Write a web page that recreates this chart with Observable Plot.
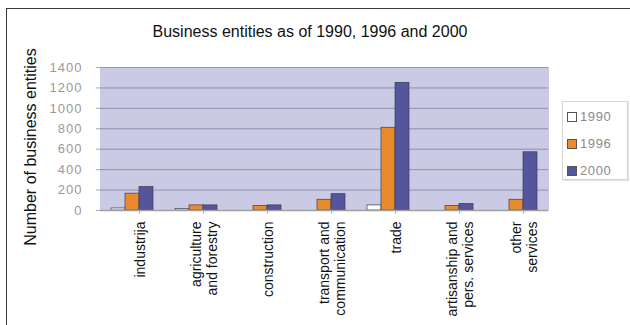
<!DOCTYPE html>
<html>
<head>
<meta charset="utf-8">
<script src="https://cdn.jsdelivr.net/npm/d3@7"></script>
<script src="https://cdn.jsdelivr.net/npm/@observablehq/plot@0.6"></script>
<style>
  html, body { margin: 0; padding: 0; background: #fff; }
  body { font-family: Arial, "Liberation Sans", sans-serif; }
  #wrap { position: relative; width: 630px; height: 325px; overflow: hidden; }
  #border { position: absolute; left: 6px; top: 8px; width: 700px; height: 400px; border: 1.5px solid #3a3a3a; box-sizing: border-box; }
  #title { position: absolute; left: 0; width: 620px; top: 23px; text-align: center; font-size: 16px; color: #111; }
  #ytitle { position: absolute; left: 31px; top: 147px; width: 240px; margin-left: -120px; margin-top: -10px; text-align: center; font-size: 16px; line-height: 20px; color: #111; transform: rotate(-90deg); white-space: nowrap; }
  #chart { position: absolute; left: 0; top: 0; }
  #legend { position: absolute; left: 562px; top: 101px; width: 66px; height: 79px; border: 1px solid #d4d4d4; background: #fff; box-sizing: border-box; box-shadow: 1px 1px 1px #e4e4e4; }
  .item { position: absolute; left: 4px; font-size: 13px; color: #8a8a8a; letter-spacing: 0.6px; line-height: 13px; }
  .sw { display: inline-block; width: 8px; height: 8px; border: 1px solid #555; margin-right: 3px; vertical-align: -1px; }
  svg [aria-label="y-axis tick label"] text { letter-spacing: 1px; }
</style>
</head>
<body>
<div id="wrap">
  <div id="border"></div>
  <div id="title"></div>
  <div id="chart"></div>
  <div id="ytitle"></div>
  <div id="legend"></div>
</div>
<script>
const titleText = "Business entities as of 1990, 1996 and 2000";
const yTitle = "Number of business entities";
const categories = ["industrija", "agriculture\nand forestry", "construction", "transport and\ncommunication", "trade", "artisanship and\npers. services", "other\nservices"];
const years = ["1990", "1996", "2000"];
const values1990 = [20, 15, 0, 0, 50, 0, 0];
const values1996 = [165, 50, 45, 105, 810, 45, 105];
const values2000 = [230, 50, 50, 160, 1250, 65, 570];
const yTicks = [0, 200, 400, 600, 800, 1000, 1200, 1400];
const colors = ["#ffffff", "#e98a2c", "#55559d"];

const series = [values1990, values1996, values2000];
const data = [];
categories.forEach((c, i) => years.forEach((y, j) => data.push({category: c, year: y, value: series[j][i]})));

document.getElementById("title").textContent = titleText;
document.getElementById("ytitle").textContent = yTitle;

function build(useSuper) {
  const bgMarks = useSuper
    ? [
        Plot.frame({facet: "super", fill: "#cacae4", stroke: "none"}),
        Plot.ruleY(yTicks.filter(d => d > 0), {facet: "super", stroke: "#8f8fb2"}),
        Plot.frame({facet: "super", stroke: "#9c9c9c", strokeWidth: 1.2})
      ]
    : [
        Plot.frame({fill: "#cacae4", stroke: "#cacae4", strokeWidth: 1}),
        Plot.gridY(yTicks.filter(d => d > 0), {stroke: "#8f8fb2", strokeOpacity: 1}),
        Plot.ruleY([1400], {stroke: "#9a9a9a"})
      ];
  return Plot.plot({
    width: 630,
    height: 325,
    marginTop: 67,
    marginBottom: 115,
    marginLeft: 97,
    marginRight: 80,
    style: {fontFamily: "Arial, 'Liberation Sans', sans-serif", background: "transparent"},
    fx: {domain: categories, padding: 0},
    x: {domain: years, paddingInner: 0, paddingOuter: 0.7, axis: null},
    y: {domain: [0, 1400]},
    color: {domain: years, range: colors},
    marks: [
      ...bgMarks,
      Plot.barY(data, {fx: "category", x: "year", y: "value", fill: "year", stroke: "#3c3c50", strokeWidth: 0.7}),
      Plot.ruleY([0], {stroke: "#a0a0a0", strokeWidth: 1.5}),
      Plot.axisY({ticks: yTicks, tickSize: 4, tickPadding: 14, fontSize: 13, stroke: "#aaa", fill: "#999",
        tickFormat: d => String(d), label: null}),
      Plot.axisFx({anchor: "bottom", tickRotate: -90, tickSize: 4, tickPadding: 7, fontSize: 14, lineHeight: 1.15,
        stroke: "#b0b0b0", fill: "#111", label: null, dx: 7})
    ]
  });
}

let plot;
try { plot = build(true); } catch (e) { plot = build(false); }
document.getElementById("chart").appendChild(plot);

const legend = document.getElementById("legend");
years.forEach((y, j) => {
  const div = document.createElement("div");
  div.className = "item";
  div.style.top = (8 + j * 27) + "px";
  const sw = document.createElement("span");
  sw.className = "sw";
  sw.style.background = colors[j];
  div.appendChild(sw);
  div.appendChild(document.createTextNode(y));
  legend.appendChild(div);
});
</script>
</body>
</html>
